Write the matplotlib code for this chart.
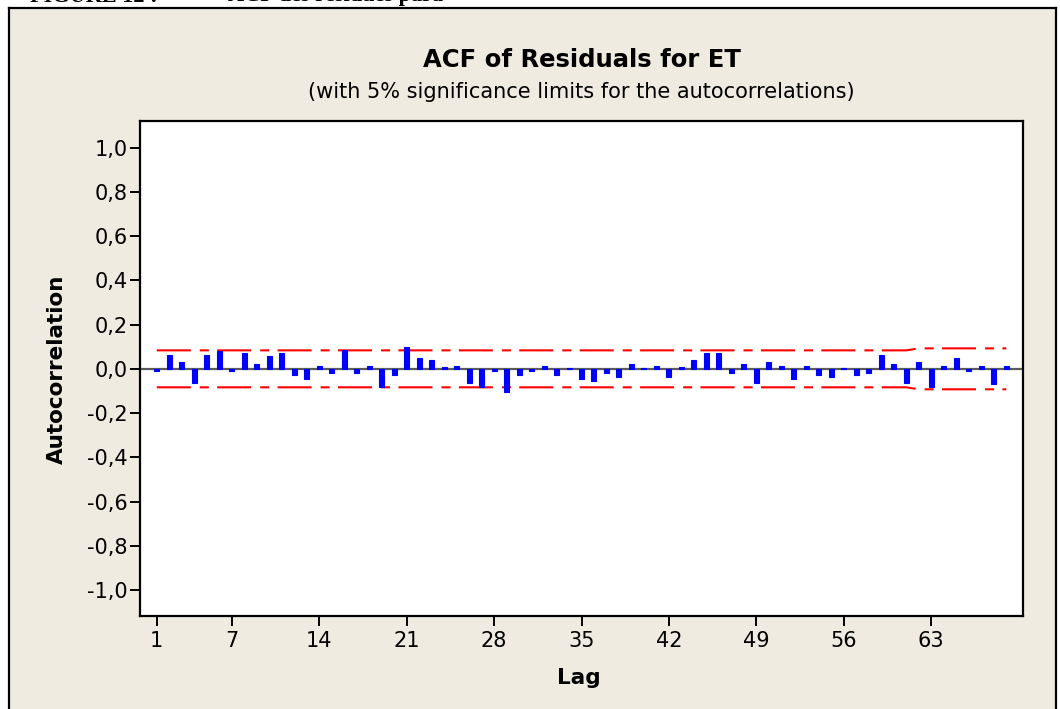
import matplotlib
matplotlib.use("Agg")
import matplotlib.pyplot as plt
from matplotlib.lines import Line2D
from matplotlib.patches import Rectangle

# Residual autocorrelations for lags 1..69
lags = list(range(1, 70))
acf = [
    -0.012, 0.062, 0.029, -0.062, 0.062, 0.080, -0.012, 0.071, 0.021, 0.056,
    0.071, -0.027, -0.044, 0.014, -0.021, 0.083, -0.020, 0.014, -0.080, -0.027,
    0.098, 0.047, 0.039, 0.008, 0.012, -0.062, -0.080, -0.012, -0.104, -0.027,
    -0.012, 0.014, -0.027, 0.005, -0.044, -0.054, -0.020, -0.036, 0.021, 0.005,
    0.014, -0.036, 0.008, 0.039, 0.071, 0.071, -0.020, 0.021, -0.062, 0.029,
    0.014, -0.044, 0.014, -0.027, -0.036, 0.005, -0.027, -0.020, 0.062, 0.021,
    -0.062, 0.029, -0.080, 0.014, 0.047, -0.012, 0.014, -0.069, 0.014,
]
# 5% significance limits (upper; lower is the mirror)
limits = [
    0.0835, 0.0835, 0.0835, 0.0835, 0.0835, 0.0835, 0.0835, 0.0835, 0.0835, 0.0835,
    0.0835, 0.0835, 0.0835, 0.0835, 0.0835, 0.0835, 0.0835, 0.0835, 0.0835, 0.0835,
    0.0835, 0.0835, 0.0835, 0.0835, 0.0835, 0.0835, 0.0835, 0.0835, 0.0835, 0.0835,
    0.0835, 0.0835, 0.0835, 0.0835, 0.0835, 0.0835, 0.0835, 0.0835, 0.0835, 0.0835,
    0.0835, 0.0835, 0.0835, 0.0835, 0.0835, 0.0835, 0.0835, 0.0835, 0.0835, 0.0835,
    0.0835, 0.0835, 0.0835, 0.0835, 0.0835, 0.0835, 0.0835, 0.0835, 0.0835, 0.0835,
    0.0835, 0.0925, 0.0925, 0.0925, 0.0925, 0.0925, 0.0925, 0.0925, 0.0925,
]
xticks = [1, 7, 14, 21, 28, 35, 42, 49, 56, 63]
yticks = [-1.0, -0.8, -0.6, -0.4, -0.2, 0.0, 0.2, 0.4, 0.6, 0.8, 1.0]
ytick_labels = [f"{v:.1f}".replace(".", ",") for v in yticks]

title = "ACF of Residuals for ET"
subtitle = "(with 5% significance limits for the autocorrelations)"
caption_left = "FIGURE 12 :"
caption_right = "ACF des résidues para"

plt.rcParams["font.family"] = ["DejaVu Sans"]
plt.rcParams["lines.scale_dashes"] = False

W, H = 1060, 709
fig = plt.figure(figsize=(W / 100, H / 100), dpi=100, facecolor="white")

def fx(px):
    return px / W

def fy(py):
    return 1 - py / H

BEIGE = "#EFEBE1"
# panel background and frame
fig.patches.append(Rectangle((fx(9), 0), fx(1056) - fx(9), fy(8), transform=fig.transFigure,
                             facecolor=BEIGE, edgecolor="none", zorder=-5))
for xs, ys in [([9, 9], [8, 712]), ([9, 1056], [8, 8]), ([1056, 1056], [8, 712])]:
    fig.add_artist(Line2D([fx(x) for x in xs], [fy(y) for y in ys], color="black",
                          lw=1.6, transform=fig.transFigure, zorder=-4))

# caption above the panel, mostly outside the image
fig.text(fx(30), fy(1.5), caption_left, family="Liberation Serif", weight="bold",
         fontsize=16, va="baseline", ha="left")
fig.text(fx(228), fy(1.0), caption_right, family="Liberation Serif", weight="bold",
         fontsize=16, va="baseline", ha="left")

ax = fig.add_axes([fx(140), fy(616), fx(1023) - fx(140), fy(121) - fy(616)])
ax.set_zorder(1)
ax.set_facecolor("white")

ax.axhline(0, color="#5a5a5a", lw=1.6, zorder=1)
ax.bar(lags, acf, width=0.4, color="#0000FF", edgecolor="#0000FF", linewidth=0.8, zorder=3)
ax.plot(lags, limits, color="#FF0000", lw=1.5, linestyle=(0, (24.5, 6.5, 6.5, 6.0)), zorder=2)
ax.plot(lags, [-v for v in limits], color="#FF0000", lw=1.5,
        linestyle=(0, (24.5, 6.5, 6.5, 6.0)), zorder=2)

ax.set_xlim(-0.34, 70.34)
ax.set_ylim(-1.117, 1.12)
ax.set_xticks(xticks)
ax.set_xticklabels([str(t) for t in xticks])
ax.set_yticks(yticks)
ax.set_yticklabels(ytick_labels)
ax.tick_params(axis="both", direction="out", length=7, width=1.4, labelsize=15, color="black")
ax.tick_params(axis="y", pad=2)
ax.tick_params(axis="x", pad=4)
for s in ax.spines.values():
    s.set_linewidth(1.6)
    s.set_color("black")

fig.text(fx(581.5), fy(67), title, ha="center", va="baseline", fontsize=17.5, weight="bold")
fig.text(fx(581.5), fy(98), subtitle, ha="center", va="baseline", fontsize=15)
fig.text(fx(579), fy(684), "Lag", ha="center", va="baseline", fontsize=15.5, weight="bold")
fig.text(fx(57), fy(369), "Autocorrelation", ha="center", va="center", rotation=90,
         fontsize=15.5, weight="bold")

fig.savefig("out.png", dpi=100, facecolor="white")
